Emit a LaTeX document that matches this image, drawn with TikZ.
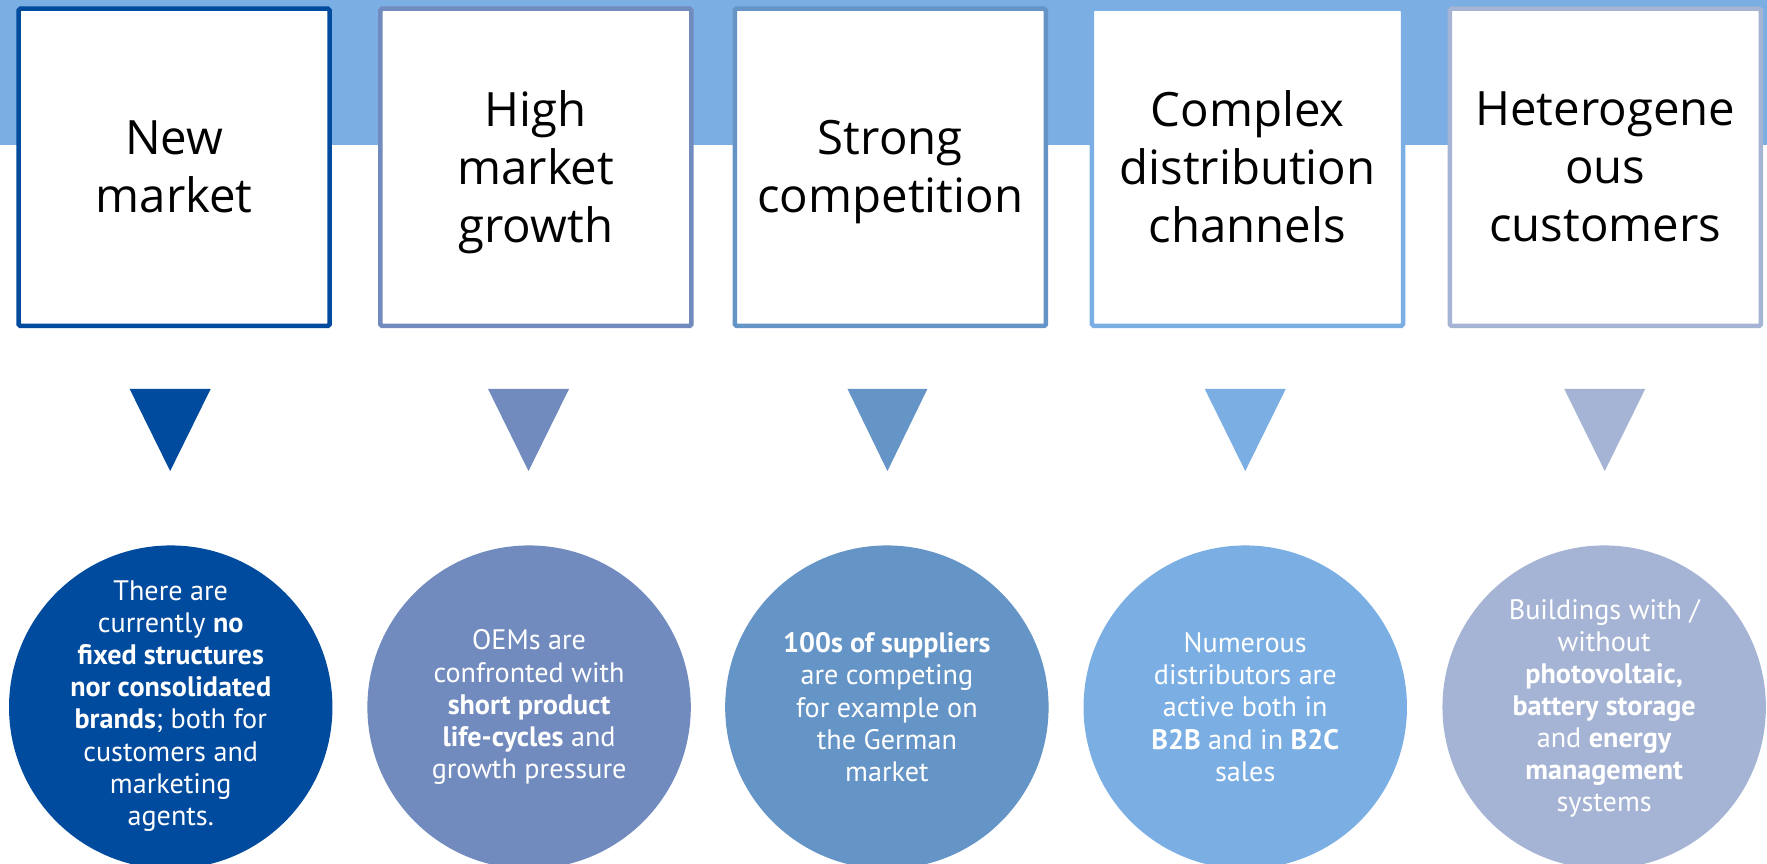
\documentclass[tikz,border=0pt]{standalone}
\usepackage{fontspec}
\setmainfont{Open Sans}
\newfontfamily\circfont{PT Sans}
\definecolor{cA}{HTML}{004B9E}
\definecolor{cB}{HTML}{728BBE}
\definecolor{cC}{HTML}{6594C6}
\definecolor{cD}{HTML}{7BAFE4}
\definecolor{cE}{HTML}{A5B4D4}
\definecolor{band}{HTML}{7BAFE4}
\newcommand{\hs}{\vphantom{Hg}}
\begin{document}
\begin{tikzpicture}[x=1pt,y=-1pt,
  box/.style={draw, fill=white, line width=4pt, rounded corners=1.5pt, minimum width=276, minimum height=281.5,
    inner sep=0},
  htext/.style={inner sep=0, align=center, text=black, font=\fontsize{42}{51.5}\selectfont},
  disc/.style={circle, minimum size=287, inner sep=0},
  ctext/.style={text=white, align=center, inner sep=0, font=\circfont\fontsize{25}{28.5}\selectfont}]
\useasboundingbox (0,0) rectangle (1568,766);
\fill[white] (0,0) rectangle (1568,766);
\fill[band] (0,0) rectangle (1568,128.7);

% header boxes
\node[box, draw=cA] (b1) at (154.5,148.5) {};
\node[box, draw=cB] (b2) at (475.5,148.5) {};
\node[box, draw=cC] (b3) at (790,148.5) {};
\node[box, draw=cD] (b4) at (1107,148.5) {};
\node[box, draw=cE] (b5) at (1424.5,148.5) {};
\node[htext] (h1) at (154.5,153) {\hs New\\market\hs};
\node[htext] (h2) at (475.5,152.5) {\hs High\\market\\growth\hs};
\node[htext] (h3) at (790,152.5) {\hs Strong\\competition\hs};
\node[htext] (h4) at (1107,152.5) {\hs Complex\\distribution\\channels\hs};
\node[htext] (h5) at (1424.5,152.5) {\hs Heterogene\\ous\\customers\hs};

% triangles
\fill[cA] (115,345) -- (187,345) -- (151,418) -- cycle;
\fill[cB] (433,345) -- (505,345) -- (469,418) -- cycle;
\fill[cC] (752,345) -- (823,345) -- (787.5,418) -- cycle;
\fill[cD] (1069,345) -- (1141,345) -- (1105,418) -- cycle;
\fill[cE] (1388,345) -- (1460,345) -- (1424,418) -- cycle;

% circles
\node[disc, fill=cA] (d1) at (151.5,627.5) {};
\node[disc, fill=cB] (d2) at (469.5,627.5) {};
\node[disc, fill=cC] (d3) at (787,627.5) {};
\node[disc, fill=cD] (d4) at (1105,627.5) {};
\node[disc, fill=cE] (d5) at (1423.5,627.5) {};

\node[ctext] (t1) at (151.5,626.5) {There are\\currently \textbf{no}\\\textbf{fixed structures}\\\textbf{nor consolidated}\\\textbf{brands}; both for\\customers and\\marketing\\agents.};
\node[ctext] (t2) at (469.5,627.5) {OEMs are\\confronted with\\\textbf{short product}\\\textbf{life-cycles} and\\growth pressure};
\node[ctext] (t3) at (787,627.5) {\textbf{100s of suppliers}\\are competing\\for example on\\the German\\market};
\node[ctext] (t4) at (1105,627.5) {Numerous\\distributors are\\active both in\\\textbf{B2B} and in \textbf{B2C}\\sales};
\node[ctext] (t5) at (1423.5,628.5) {Buildings with /\\without\\\textbf{photovoltaic,}\\\textbf{battery storage}\\and \textbf{energy}\\\textbf{management}\\systems};
\end{tikzpicture}
\end{document}
